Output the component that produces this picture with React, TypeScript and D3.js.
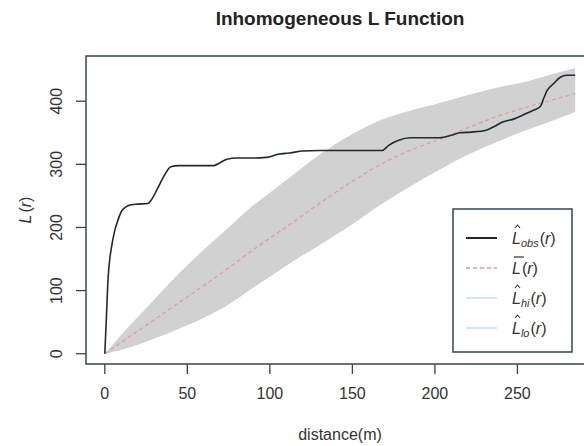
import React from "react";
import * as d3 from "d3";

// envelope grid (distance, m)
const envR = [0, 5, 10, 20, 30, 40, 50, 60, 75, 90, 100, 115, 130, 150, 167, 185, 203, 220, 240, 255, 270, 285];
const theoL = [0, 9, 18, 36, 54, 72, 90, 108, 136, 165, 183, 210, 238, 273, 300, 322, 340, 358, 378, 390, 401, 412];
const hiL = [0, 15, 30, 58, 86, 114, 140, 165, 200, 235, 255, 285, 315, 348, 370, 385, 397, 410, 423, 431, 442, 452];
const loL = [0, 3, 6, 14, 24, 34, 45, 57, 78, 105, 122, 148, 172, 205, 236, 265, 292, 315, 338, 354, 368, 383];

// observed L function
const obsR = [0, 1, 2, 3, 4, 6, 8, 10, 13, 16, 20, 26, 28, 32, 36, 40, 45, 55, 66, 70, 74, 80, 90, 98, 105, 112, 120, 130, 150, 168, 172, 178, 185, 195, 203, 210, 215, 222, 231, 236, 241, 248, 255, 260, 264, 266, 268, 272, 276, 280, 285];
const obsL = [0, 60, 120, 150, 168, 195, 212, 225, 233, 236, 237, 238, 243, 262, 282, 296, 298, 298, 298, 303, 308, 310, 310, 311, 316, 318, 321, 322, 322, 322, 330, 338, 342, 342, 342, 346, 350, 351, 354, 360, 367, 372, 380, 386, 392, 405, 417, 428, 438, 441, 441];

const xTicks = [0, 50, 100, 150, 200, 250];
const yTicks = [0, 100, 200, 300, 400];

const W = 584;
const H = 446;
const left = 86;
const right = 594; // plot box runs past the picture edge
const top = 56;
const bottom = 364;

const axisCol = "#34454d";
const textCol = "#333";
const font = "Liberation Sans, Arial, sans-serif";

export default function App() {
  const x = d3.scaleLinear().domain([-11.4, 296.4]).range([left, right]);
  const y = d3.scaleLinear().domain([-16.3, 471.6]).range([bottom, top]);

  const env = envR.map((r, i) => ({ r, t: theoL[i], hi: hiL[i], lo: loL[i] }));
  const obs = obsR.map((r, i) => ({ r, v: obsL[i] }));

  const band = d3
    .area<any>()
    .x((d) => x(d.r))
    .y0((d) => y(d.lo))
    .y1((d) => y(d.hi))
    .curve(d3.curveMonotoneX);
  const theoLine = d3
    .line<any>()
    .x((d) => x(d.r))
    .y((d) => y(d.t))
    .curve(d3.curveMonotoneX);
  const obsLine = d3
    .line<any>()
    .x((d) => x(d.r))
    .y((d) => y(d.v))
    .curve(d3.curveMonotoneX);

  // legend
  const lgX = 453;
  const lgY = 209;
  const lgW = 119;
  const lgH = 143;
  const rows = [
    { sub: "obs", mark: "hat", stroke: "#1f2a2e", dash: "", w: 2 },
    { sub: "", mark: "bar", stroke: "#e49a9a", dash: "4,3", w: 1.3 },
    { sub: "hi", mark: "hat", stroke: "#a9cde3", dash: "", w: 1 },
    { sub: "lo", mark: "hat", stroke: "#a9cde3", dash: "", w: 1 },
  ];

  return (
    <svg
      width={W}
      height={H}
      style={{ position: "absolute", left: 0, top: 0, background: "#fff" }}
      fontFamily={font}
    >
      <text x={340} y={25} textAnchor="middle" fontSize={19} fontWeight="bold" fill="#222">
        Inhomogeneous L Function
      </text>

      <path d={band(env) || ""} fill="#d1d1d1" />
      <path d={theoLine(env) || ""} fill="none" stroke="#e49a9a" strokeWidth={1.2} strokeDasharray="4,3" />
      <path d={obsLine(obs) || ""} fill="none" stroke="#1f2a2e" strokeWidth={1.6} />

      <rect x={left} y={top} width={right - left} height={bottom - top} fill="none" stroke={axisCol} strokeWidth={1.5} />

      {xTicks.map((t) => (
        <g key={"x" + t}>
          <line x1={x(t)} x2={x(t)} y1={bottom} y2={bottom + 10} stroke={axisCol} strokeWidth={1.3} />
          <text x={x(t)} y={399} textAnchor="middle" fontSize={16} fill={textCol}>
            {t}
          </text>
        </g>
      ))}
      {yTicks.map((t) => (
        <g key={"y" + t}>
          <line x1={left - 10} x2={left} y1={y(t)} y2={y(t)} stroke={axisCol} strokeWidth={1.3} />
          <text
            transform={`translate(62,${y(t)}) rotate(-90)`}
            textAnchor="middle"
            fontSize={16}
            fill={textCol}
          >
            {t}
          </text>
        </g>
      ))}

      <text x={340} y={440} textAnchor="middle" fontSize={16} fill={textCol}>
        distance(m)
      </text>
      <text transform={`translate(31,${(top + bottom) / 2}) rotate(-90)`} textAnchor="middle" fontSize={16} fill={textCol}>
        <tspan fontStyle="italic">L</tspan>
        <tspan dx={2}>(</tspan>
        <tspan fontStyle="italic">r</tspan>
        <tspan>)</tspan>
      </text>

      <rect x={lgX} y={lgY} width={lgW} height={lgH} fill="#fff" stroke={axisCol} strokeWidth={1.5} />
      {rows.map((row, i) => {
        const cy = lgY + 29 + i * 30;
        const tx = 512;
        return (
          <g key={"lg" + i}>
            <line
              x1={466}
              x2={497}
              y1={cy}
              y2={cy}
              stroke={row.stroke}
              strokeWidth={row.w}
              strokeDasharray={row.dash}
            />
            {row.mark === "hat" ? (
              <polyline
                points={`${tx + 3},${cy - 10} ${tx + 5.5},${cy - 13} ${tx + 8},${cy - 10}`}
                fill="none"
                stroke={textCol}
                strokeWidth={1.1}
              />
            ) : (
              <line x1={tx + 2} x2={tx + 12} y1={cy - 11} y2={cy - 11} stroke={textCol} strokeWidth={1.2} />
            )}
            <text x={tx} y={cy + 6} fontSize={16} fill={textCol}>
              <tspan fontStyle="italic">L</tspan>
              {row.sub ? (
                <tspan fontStyle="italic" fontSize={11} dy={3}>
                  {row.sub}
                </tspan>
              ) : null}
              <tspan dy={row.sub ? -3 : 0} dx={1}>(</tspan>
              <tspan fontStyle="italic">r</tspan>
              <tspan>)</tspan>
            </text>
          </g>
        );
      })}
    </svg>
  );
}
